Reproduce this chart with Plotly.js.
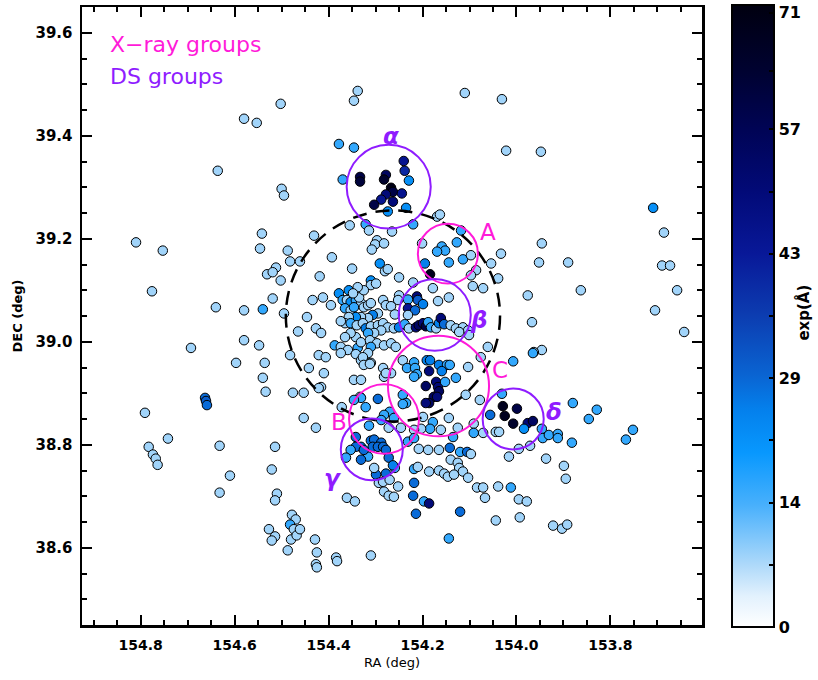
<!DOCTYPE html>
<html>
<head>
<meta charset="utf-8">
<script src="https://cdn.plot.ly/plotly-3.0.1.min.js"></script>
<style>html,body{margin:0;padding:0;background:#fff;}#chart{width:818px;height:680px;}</style>
</head>
<body>
<div id="chart"></div>
<script>
// ---------- galaxy members: RA (deg), DEC (deg), value shown by colour ----------
// outer field, top
const raTop  = [154.338,154.346,154.502,154.580,154.553,154.110,154.031,154.378,154.346,154.022,153.948,154.636,154.370,154.500,154.495,153.709];
const decTop = [39.487,39.468,39.462,39.433,39.425,39.483,39.471,39.384,39.377,39.371,39.369,39.332,39.315,39.297,39.284,39.260];
const ewTop  = [8,8,8,8,8,8,8,16,16,8,8,8,16,8,8,22];
// outer field, left and bottom-left
const raLeft  = [154.810,154.753,154.776,154.542,154.546,154.531,154.640,154.580,154.540,154.693,154.580,154.548,154.540,154.536,154.597,154.534,154.663,154.661,154.659,154.791,154.742,154.783,154.774,154.768,154.764,154.632,154.514,154.521,154.610,154.632,154.510,154.514,154.527,154.514,154.521,154.478,154.470,154.482,154.474,154.480,154.468,154.461,154.487,154.429,154.425,154.384,154.382,154.427,154.425,154.310];
const decLeft = [39.193,39.177,39.098,39.210,39.181,39.131,39.067,39.061,39.063,38.988,39.003,38.993,38.930,38.959,38.959,38.903,38.891,38.885,38.877,38.862,38.812,38.796,38.781,38.773,38.761,38.798,38.796,38.752,38.740,38.707,38.705,38.692,38.636,38.622,38.614,38.664,38.655,38.645,38.636,38.616,38.624,38.636,38.595,38.616,38.591,38.581,38.574,38.568,38.562,38.585];
const ewLeft  = [8,8,8,8,8,8,8,8,16,8,8,8,8,8,8,8,28,30,28,8,8,8,8,8,8,8,8,8,8,8,8,8,8,8,8,8,8,16,8,8,8,8,8,8,8,8,8,8,8,8];
// outer field, right
const raRight  = [153.686,153.690,153.673,153.658,153.643,153.705,153.863,153.767,153.752,153.946,153.952,153.890,153.976,153.967,153.946,153.963];
const decRight = [39.212,39.148,39.148,39.100,39.019,39.061,39.100,38.810,38.829,39.191,39.154,39.154,39.090,39.038,38.984,38.980];
const ewRight  = [8,8,8,8,8,8,8,16,16,8,8,8,8,8,8,8];
// group alpha
const raAlpha  = [154.333,154.333,154.278,154.282,154.267,154.263,154.278,154.288,154.303,154.263,154.244,154.240,154.238,154.229,154.274,154.235];
const decAlpha = [39.320,39.311,39.324,39.315,39.299,39.291,39.286,39.276,39.266,39.272,39.288,39.351,39.332,39.313,39.253,39.260];
const ewAlpha  = [60,62,55,65,70,60,50,45,60,50,45,45,40,22,22,22];
// upper part of the cluster
const raUpper  = [154.169,154.163,154.355,154.321,154.314,154.265,154.220,154.118,154.431,154.297,154.301,154.282,154.308,154.201,154.159,154.152,154.169,154.127,154.114,154.097,154.144,154.195,154.184,154.487,154.482,154.461,154.512,154.393,154.350,154.291,154.280,154.274,154.250,154.220,154.086,154.097,154.054,154.033,154.419,154.502,154.039,154.093,154.071,154.178,154.519,154.061,154.076];
const decUpper = [39.243,39.247,39.226,39.228,39.216,39.214,39.228,39.216,39.206,39.197,39.189,39.191,39.179,39.191,39.185,39.177,39.175,39.193,39.160,39.168,39.154,39.152,39.131,39.177,39.156,39.156,39.144,39.164,39.142,39.152,39.137,39.141,39.125,39.115,39.139,39.129,39.152,39.171,39.127,39.119,39.123,39.108,39.104,39.104,39.135,38.990,38.970];
const ewUpper  = [8,8,8,16,8,8,16,16,8,8,8,8,8,8,16,16,16,16,16,8,16,25,68,8,8,8,8,8,8,22,8,8,8,8,8,8,8,8,8,8,8,8,8,8,8,8,8];
// cluster core
const raCore  = [154.519,154.495,154.434,154.412,154.395,154.446,154.427,154.416,154.465,154.482,154.442,154.410,154.416,154.476,154.453,154.346,154.331,154.333,154.378,154.357,154.370,154.361,154.353,154.342,154.331,154.335,154.310,154.310,154.299,154.325,154.338,154.348,154.365,154.353,154.346,154.325,154.316,154.310,154.284,154.278,154.267,154.259,154.295,154.306,154.316,154.331,154.342,154.357,154.365,154.374,154.353,154.340,154.327,154.321,154.310,154.295,154.284,154.274,154.261,154.250,154.238,154.229,154.288,154.303,154.316,154.342,154.353,154.365,154.387,154.374,154.359,154.338,154.331,154.312,154.297,154.282,154.267,154.257,154.310,154.316,154.342,154.331,154.321,154.310,154.267,154.282,154.421,154.406,154.374,154.327,154.325,154.312,154.284,154.278,154.421,154.427,154.453];
const decCore = [39.084,39.055,39.081,39.086,39.071,39.048,39.026,39.017,39.020,38.974,38.949,38.939,38.912,38.901,38.901,38.926,38.926,38.893,39.094,39.100,39.081,39.081,39.077,39.081,39.075,39.086,39.119,39.110,39.113,39.100,39.106,39.094,39.065,39.061,39.067,39.067,39.071,39.075,39.081,39.071,39.069,39.053,39.055,39.052,39.046,39.048,39.048,39.048,39.036,39.040,39.036,39.032,39.036,39.026,39.030,39.032,39.036,39.028,39.026,39.028,39.034,39.026,39.022,39.017,39.017,39.009,39.017,39.009,38.993,38.990,38.984,38.988,38.999,39.003,38.997,38.993,38.997,38.990,38.990,38.978,38.976,38.964,38.959,38.959,38.939,38.932,38.974,38.970,38.978,38.970,38.955,38.957,38.949,38.939,38.910,38.833,38.852];
const ewCore  = [8,8,8,8,8,8,8,8,8,8,8,8,8,8,8,8,8,8,22,22,16,8,22,16,8,8,22,8,8,8,8,8,16,8,16,8,8,8,8,8,8,8,8,25,8,8,22,8,8,8,16,8,8,25,8,8,8,8,8,25,16,8,8,8,16,8,8,8,16,8,8,16,8,8,8,8,8,8,16,8,8,8,8,8,8,8,8,8,8,8,8,8,8,8,8,8,8];
// group beta
const raBeta  = [154.250,154.252,154.231,154.212,154.210,154.199,154.231,154.216,154.231,154.214,154.208,154.199,154.193,154.188,154.182,154.171,154.165,154.161,154.154,154.140,154.129,154.114,154.103,154.101,154.122,154.167,154.144];
const decBeta = [39.090,39.081,39.082,39.088,39.081,39.073,39.065,39.061,39.052,39.028,39.032,39.036,39.030,39.038,39.028,39.026,39.036,39.046,39.034,39.032,39.026,39.028,39.022,39.013,39.019,39.079,39.086];
const ewBeta  = [8,8,16,50,30,25,45,28,8,50,55,50,60,16,16,8,25,50,28,8,8,8,8,8,8,8,8];
// groups C and B
const raCB  = [154.242,154.218,154.191,154.184,154.165,154.148,154.142,154.233,154.216,154.186,154.159,154.212,154.218,154.171,154.167,154.152,154.129,154.103,154.007,153.965,154.193,154.165,154.176,154.169,154.186,154.193,154.242,154.235,154.108,154.078,154.144,154.199,154.178,154.161,154.184,154.203,154.331,154.346,154.321,154.295,154.372,154.242,154.270,154.282,154.288,154.261,154.314,154.272,154.246,154.218];
const decCB = [38.964,38.960,38.964,38.964,38.955,38.955,38.955,38.949,38.949,38.943,38.943,38.937,38.932,38.922,38.912,38.922,38.930,38.951,38.962,38.978,38.914,38.904,38.893,38.893,38.881,38.881,38.897,38.881,38.897,38.887,38.852,38.854,38.844,38.829,38.831,38.831,38.891,38.887,38.873,38.889,38.873,38.879,38.864,38.858,38.848,38.852,38.837,38.833,38.833,38.829];
const ewCB  = [8,16,25,25,25,16,16,16,16,50,25,16,16,50,50,16,16,8,16,16,55,55,55,50,55,50,16,16,8,8,8,8,16,8,16,8,16,16,16,28,8,16,16,16,16,16,16,8,8,8];
// group gamma and the south
const raSouth  = [154.342,154.331,154.342,154.310,154.303,154.288,154.306,154.295,154.284,154.278,154.272,154.316,154.331,154.353,154.363,154.325,154.259,154.263,154.278,154.299,154.303,154.293,154.284,154.270,154.252,154.282,154.272,154.261,154.361,154.344,154.231,154.218,154.208,154.188,154.165,154.142,154.120,154.105,154.097,154.140,154.125,154.122,154.218,154.210,154.186,154.165,154.154,154.146,154.133,154.114,154.103,154.218,154.220,154.197,154.186,154.214,154.120,154.084,154.071,154.067,154.039,154.012,153.995,153.978,154.044,153.993,153.922,153.903,153.892,154.144];
const decSouth = [38.815,38.796,38.796,38.808,38.810,38.804,38.796,38.796,38.796,38.790,38.775,38.777,38.771,38.790,38.775,38.790,38.755,38.760,38.744,38.742,38.755,38.726,38.728,38.732,38.719,38.709,38.701,38.699,38.697,38.690,38.806,38.813,38.792,38.790,38.790,38.794,38.786,38.786,38.782,38.771,38.765,38.755,38.753,38.757,38.748,38.750,38.744,38.738,38.742,38.748,38.736,38.726,38.701,38.690,38.686,38.666,38.670,38.717,38.717,38.697,38.719,38.717,38.694,38.690,38.653,38.659,38.643,38.637,38.645,38.618];
const ewSouth  = [28,28,28,28,28,28,28,28,28,28,28,16,28,16,16,28,16,25,28,28,8,8,8,8,8,8,8,8,8,8,16,16,8,8,8,28,16,28,8,8,8,8,16,8,8,8,8,8,8,8,8,28,28,16,50,28,28,8,8,8,8,16,8,8,8,8,8,8,8,16];
// group delta and the east
const raEast  = [154.031,154.029,154.025,153.999,154.007,154.056,153.976,153.965,153.984,154.044,154.037,154.016,153.995,153.971,153.946,153.944,153.931,153.912,153.912,153.882,153.937,153.899,153.895,153.880,153.829,153.846,154.091,154.071,154.091,154.135,154.125];
const decEast = [38.899,38.875,38.856,38.870,38.841,38.858,38.842,38.846,38.831,38.825,38.825,38.777,38.792,38.798,38.831,38.813,38.819,38.821,38.813,38.804,38.773,38.759,38.734,38.881,38.868,38.850,38.841,38.823,38.823,38.815,38.833];
const ewEast  = [16,68,68,60,65,28,50,55,22,8,8,8,8,8,16,16,16,16,16,16,8,8,8,16,16,16,8,8,16,16,8];

// ---------- group circles ----------
const xrayNames = ['A','B','C'];
const xrayRA    = [154.146,154.282,154.166];
const xrayDEC   = [39.171,38.850,38.914];
const xrayRadRA = [0.0639,0.0745,0.1076];
const xrayRadDEC= [0.0581,0.0677,0.0977];
const xrayLabRA = [154.061,154.378,154.035];
const xrayLabDEC= [39.214,38.845,38.945];

const dsNames   = ['α','β','γ','δ'];
const dsRA      = [154.272,154.174,154.308,154.007];
const dsDEC     = [39.301,39.052,38.791,38.850];
const dsRadRA   = [0.0895,0.0767,0.066,0.065];
const dsRadDEC  = [0.0813,0.0697,0.060,0.059];
const dsLabRA   = [154.268,154.080,154.391,153.920];
const dsLabDEC  = [39.400,39.042,38.736,38.864];

const clusterRA = 154.263, clusterDEC = 39.050, clusterRadRA = 0.228, clusterRadDEC = 0.205;

// colour bar
const cbMax = 71.5;
const cbTickVals = [0,14.3,28.6,42.9,57.2,70.6];
const cbTickText = ['0','14','29','43','57','71'];

// ---------- build ----------
const ra  = [].concat(raTop,raLeft,raRight,raAlpha,raUpper,raCore,raBeta,raCB,raSouth,raEast);
const dec = [].concat(decTop,decLeft,decRight,decAlpha,decUpper,decCore,decBeta,decCB,decSouth,decEast);
const ew  = [].concat(ewTop,ewLeft,ewRight,ewAlpha,ewUpper,ewCore,ewBeta,ewCB,ewSouth,ewEast);

const MAG = '#ff1ad9', PUR = '#8f1cff';
const scale = [[0,'#ffffff'],[0.05,'#e2f1fd'],[0.098,'#b0dafa'],[0.196,'#48b0fc'],[0.28,'#0898fe'],[0.35,'#0480ec'],[0.405,'#0a64d2'],[0.503,'#0c3cb0'],[0.601,'#081898'],[0.699,'#020a78'],[0.797,'#000456'],[0.895,'#000230'],[1,'#000010']];

// minor ticks on colour bar
const cbAllVals = [], cbAllText = [];
for (let i = 0; i < cbTickVals.length; i++) {
  cbAllVals.push(cbTickVals[i]); cbAllText.push(cbTickText[i]);
  if (i < cbTickVals.length - 1) { cbAllVals.push((cbTickVals[i]+cbTickVals[i+1])/2); cbAllText.push(''); }
}

const trace = {
  type: 'scatter', mode: 'markers', x: ra, y: dec,
  marker: {
    size: 9.5, color: ew, cmin: 0, cmax: cbMax, colorscale: scale,
    line: {color: '#000', width: 1},
    showscale: true,
    colorbar: {
      x: 1.048, xanchor: 'left', xpad: 0,
      y: 0.5, yanchor: 'middle', ypad: 0,
      len: 622, lenmode: 'pixels',
      thickness: 42, thicknessmode: 'pixels',
      outlinewidth: 2, outlinecolor: '#000',
      tickmode: 'array', tickvals: cbAllVals, ticktext: cbAllText,
      ticklabeloverflow: 'allow',
      ticks: 'inside', ticklen: 6, tickwidth: 2, tickcolor: '#000',
      tickfont: {family: 'DejaVu Sans', size: 16, color: '#000', weight: 'bold'}
    }
  },
  hoverinfo: 'skip'
};

const shapes = [];
const annotations = [];
shapes.push({type:'circle', xref:'x', yref:'y', x0: clusterRA-clusterRadRA, x1: clusterRA+clusterRadRA,
  y0: clusterDEC-clusterRadDEC, y1: clusterDEC+clusterRadDEC, line:{color:'#000', width:2.5, dash:'14px,9px'}, layer:'above'});
for (let i = 0; i < xrayNames.length; i++) {
  shapes.push({type:'circle', xref:'x', yref:'y', x0: xrayRA[i]-xrayRadRA[i], x1: xrayRA[i]+xrayRadRA[i],
    y0: xrayDEC[i]-xrayRadDEC[i], y1: xrayDEC[i]+xrayRadDEC[i], line:{color:MAG, width:2}, layer:'above'});
  annotations.push({x: xrayLabRA[i], y: xrayLabDEC[i], xref:'x', yref:'y', text: xrayNames[i], showarrow:false,
    font:{family:'DejaVu Sans', size:23, color:MAG}});
}
for (let i = 0; i < dsNames.length; i++) {
  shapes.push({type:'circle', xref:'x', yref:'y', x0: dsRA[i]-dsRadRA[i], x1: dsRA[i]+dsRadRA[i],
    y0: dsDEC[i]-dsRadDEC[i], y1: dsDEC[i]+dsRadDEC[i], line:{color:PUR, width:2}, layer:'above'});
  annotations.push({x: dsLabRA[i], y: dsLabDEC[i], xref:'x', yref:'y', text: '<b><i>'+dsNames[i]+'</i></b>', showarrow:false,
    font:{family:'DejaVu Sans', size:23, color:PUR}});
}
annotations.push({x: 0.042, y: 0.940, xref:'paper', yref:'paper', xanchor:'left', yanchor:'middle', text:'X−ray groups', showarrow:false,
  font:{family:'DejaVu Sans', size:22, color:MAG}});
annotations.push({x: 0.042, y: 0.887, xref:'paper', yref:'paper', xanchor:'left', yanchor:'middle', text:'DS groups', showarrow:false,
  font:{family:'DejaVu Sans', size:22, color:PUR}});
annotations.push({x: 1.164, y: 0.505, xref:'paper', yref:'paper', xanchor:'center', yanchor:'middle', text:'exp(Å)', textangle:-90, showarrow:false,
  font:{family:'DejaVu Sans', size:15, color:'#000', weight:'bold'}});

const axisCommon = {
  showgrid:false, zeroline:false, showline:true, linecolor:'#000', linewidth:2.5, mirror:'allticks',
  ticks:'inside', ticklen:10, tickwidth:2, tickcolor:'#000', dtick:0.2, tickformat:'.1f',
  minor:{ticks:'inside', ticklen:5, tickwidth:2, tickcolor:'#000', dtick:0.05}
};

const layout = {
  width:818, height:680, margin:{l:82, r:116, t:7, b:55},
  paper_bgcolor:'#fff', plot_bgcolor:'#fff', showlegend:false,
  xaxis: Object.assign({}, axisCommon, {range:[154.925,153.605], tick0:154.0,
    tickfont:{family:'DejaVu Sans', size:14, color:'#000', weight:'bold'}, ticklabelstandoff: 6,
    title:{text:'RA (deg)', font:{family:'DejaVu Sans', size:13, color:'#000'}, standoff: 6}}),
  yaxis: Object.assign({}, axisCommon, {range:[38.45,39.65], tick0:39.0,
    tickfont:{family:'DejaVu Sans', size:15, color:'#000', weight:'bold'}, ticklabelstandoff: 4,
    title:{text:'DEC (deg)', font:{family:'DejaVu Sans', size:13, color:'#000', weight:'bold'}, standoff: 10}}),
  shapes: shapes, annotations: annotations
};

Plotly.newPlot('chart', [trace], layout, {displayModeBar:false, staticPlot:true});
</script>
</body>
</html>
